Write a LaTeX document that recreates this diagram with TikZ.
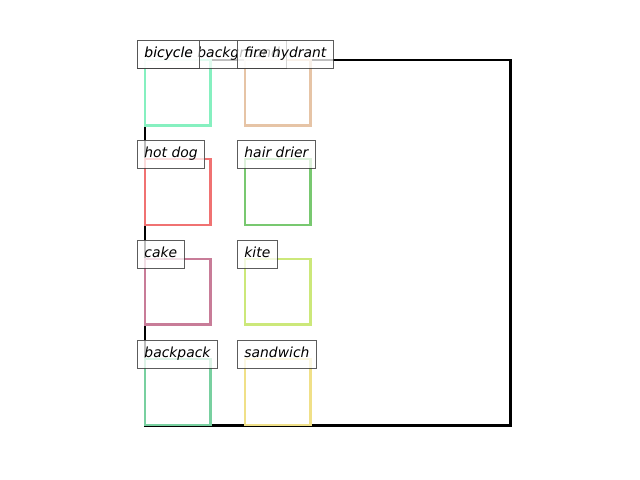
\documentclass[tikz,border=0pt]{standalone}
\usepackage{fontspec}
\setmainfont{DejaVu Sans}
\usepackage{tikz}
\usetikzlibrary{positioning}
\definecolor{bicyclec}{HTML}{86F0C0}
\definecolor{hydrantc}{HTML}{E6C4A6}
\definecolor{hotdogc}{HTML}{F07272}
\definecolor{drierc}{HTML}{78C870}
\definecolor{cakec}{HTML}{C87C98}
\definecolor{kitec}{HTML}{CCE87A}
\definecolor{backpackc}{HTML}{78D0A0}
\definecolor{sandwichc}{HTML}{F0E088}

\begin{document}
\begin{tikzpicture}[
  x=0.72pt, y=-0.72pt,
  frame/.style={draw, line width=1.6pt, minimum size=263.5pt, inner sep=0pt,
                anchor=north west},
  sq/.style={draw=#1, line width=1.6pt, minimum size=47.5pt, inner sep=0pt,
             anchor=north west},
  lbl/.style={draw=black!75, fill=white, fill opacity=0.75, text opacity=1,
              draw opacity=0.85, line width=0.7pt, inner sep=5pt,
              text height=7pt, text depth=3pt, anchor=north west,
              font=\fontsize{10pt}{12pt}\selectfont\itshape},
]
  \useasboundingbox (0,0) rectangle (640,480);

  % whole image
  \node[frame] (bg) at (143.5,58.5) {};

  % boxes, left column
  \node[sq=bicyclec] (bicycle) at (143.5,58.5) {};
  \node[sq=hotdogc] (hotdog) at (143.5,158) {};
  \node[sq=cakec] (cake) at (143.5,257.5) {};
  \node[sq=backpackc] (backpack) at (143.5,358) {};

  % boxes, right column
  \node[sq=hydrantc] (hydrant) at (243.5,58.5) {};
  \node[sq=drierc] (drier) at (243.5,158) {};
  \node[sq=kitec] (kite) at (243.5,257.5) {};
  \node[sq=sandwichc] (sandwich) at (243.5,358) {};

  % Labels
  \node[lbl] (bglbl) at (137,40) {bicycle background};
  \node[lbl] (bicyclelbl) at (137,40) {bicycle};
  \node[lbl] (hydrantlbl) at (237,40) {fire hydrant};
  \node[lbl] (hotdoglbl) at (137,140) {hot dog};
  \node[lbl] (drierlbl) at (237,140) {hair drier};
  \node[lbl] (cakelbl) at (137,240) {cake};
  \node[lbl] (kitelbl) at (237,240) {kite};
  \node[lbl] (backpacklbl) at (137,340) {backpack};
  \node[lbl] (sandwichlbl) at (237,340) {sandwich};
\end{tikzpicture}
\end{document}
